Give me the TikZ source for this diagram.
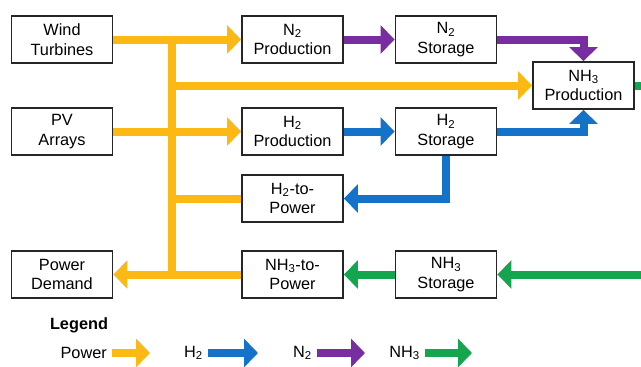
\documentclass[tikz,border=0pt]{standalone}
\usepackage{fontspec}
\setmainfont{Liberation Sans}
\usetikzlibrary{arrows.meta}
\definecolor{cpow}{RGB}{253,185,19}
\definecolor{ch}{RGB}{20,114,200}
\definecolor{cn}{RGB}{120,45,160}
\definecolor{cnh}{RGB}{20,166,78}
\tikzset{
  box/.style={draw=black!85, line width=1.9pt, fill=white, minimum width=101pt, minimum height=47pt, inner sep=0pt, align=center, font=\fontsize{16.3}{19.5}\selectfont},
  flow/.style={line width=8pt, -{Triangle[width=28pt,length=14pt]}},
  plain/.style={line width=8pt},
  lgtext/.style={font=\fontsize{16.3}{19.5}\selectfont, inner sep=0pt},
}
\begin{document}
\begin{tikzpicture}[x=1pt,y=-1pt]
\useasboundingbox (0,0) rectangle (641,367);
\clip (0,0) rectangle (641,367);
\fill[white] (0,0) rectangle (641,367);
% nodes
\node[box] (wt) at (62,39.5) {Wind\\Turbines};
\node[box] (pv) at (62,131.5) {PV\\Arrays};
\node[box] (n2p) at (292.5,39.5) {N\textsubscript{2}\\Production};
\node[box] (n2s) at (446,39.5) {N\textsubscript{2}\\Storage};
\node[box] (nh3p) at (583.5,85.5) {NH\textsubscript{3}\\Production};
\node[box] (h2p) at (292.5,131.5) {H\textsubscript{2}\\Production};
\node[box] (h2s) at (446,131.5) {H\textsubscript{2}\\Storage};
\node[box] (h2tp) at (292.5,198.5) {H\textsubscript{2}-to-\\Power};
\node[box] (pd) at (62,274.5) {Power\\Demand};
\node[box] (nh3tp) at (292.5,274.5) {NH\textsubscript{3}-to-\\Power};
\node[box] (nh3s) at (446,274.5) {NH\textsubscript{3}\\Storage};
\coordinate (tr) at (172,0);
\coordinate (gr) at (662,0);
% power
\begin{scope}[cpow]
\draw[plain] (tr |- wt.east) -- (tr |- pd.east);
\draw[flow] (wt.east) -- (n2p.west);
\draw[flow] (pv.east) -- (h2p.west);
\draw[flow] (tr |- nh3p.west) -- (nh3p.west);
\draw[plain] (h2tp.west) -- (tr |- h2tp.west);
\draw[flow] (nh3tp.west) -- (pd.east);
\end{scope}
% nitrogen
\draw[flow, cn] (n2p.east) -- (n2s.west);
\draw[flow, cn] (n2s.east) -| (nh3p.north);
% hydrogen
\draw[flow, ch] (h2p.east) -- (h2s.west);
\draw[flow, ch] (h2s.east) -| (nh3p.south);
\draw[flow, ch] (h2s.south) |- (h2tp.east);
% ammonia
\draw[flow, cnh] (nh3p.east) -| (gr |- nh3s.east) -- (nh3s.east);
\draw[flow, cnh] (nh3s.west) -- (nh3tp.east);
% legend
\node[font=\fontsize{16.3}{19.5}\selectfont\bfseries, inner sep=0pt] (lg) at (79,325) {Legend};
\node[lgtext, anchor=east] (lpow) at (107,353) {Power};
\node[lgtext, anchor=east] (lh) at (203,353) {H\textsubscript{2}};
\node[lgtext, anchor=east] (ln) at (312,353) {N\textsubscript{2}};
\node[lgtext, anchor=east] (lnh) at (420,353) {NH\textsubscript{3}};
\coordinate (a1) at (150,353);
\coordinate (a2) at (258,353);
\coordinate (a3) at (365,353);
\coordinate (a4) at (472,353);
\begin{scope}[shorten <=5pt]
\draw[flow, line width=8.5pt, cpow] (lpow.east) -- (a1);
\draw[flow, line width=8.5pt, ch] (lh.east) -- (a2);
\draw[flow, line width=8.5pt, cn] (ln.east) -- (a3);
\draw[flow, line width=8.5pt, cnh] (lnh.east) -- (a4);
\end{scope}
\end{tikzpicture}
\end{document}
